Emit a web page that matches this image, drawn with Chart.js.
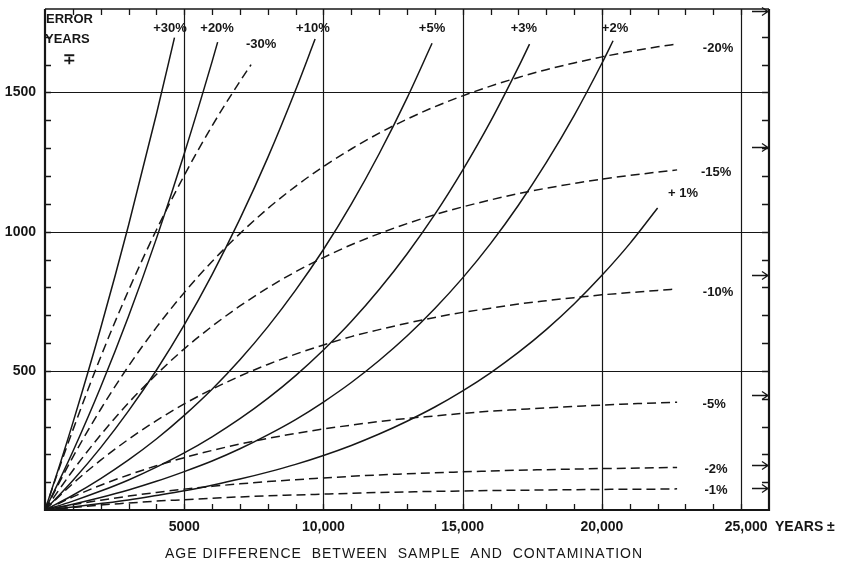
<!DOCTYPE html>
<html>
<head>
<meta charset="utf-8">
<script src="https://cdn.jsdelivr.net/npm/chart.js@4.4.1/dist/chart.umd.min.js"></script>
<style>
  html, body { margin: 0; padding: 0; background: #fff; }
  #wrap { width: 842px; height: 566px; }
</style>
</head>
<body>
<div id="wrap"><canvas id="chart" width="842" height="566"></canvas></div>
<script>
// Error in years vs age difference between sample and contamination

// x axis (years) and y axis (error years)
var X_MAX = 26000;
var Y_MAX = 1800;
var X_TICKS = [5000, 10000, 15000, 20000, 25000];
var X_TICK_LABELS = ['5000', '10,000', '15,000', '20,000', '25,000'];
var Y_TICKS = [500, 1000, 1500];
var Y_TICK_LABELS = ['500', '1000', '1500'];

// younger contamination (solid curves)
var P30_X = [0, 500, 1000, 2000, 3000, 4000, 4650];
var P30_Y = [0, 153, 313, 654, 1023, 1422, 1697];
var P20_X = [0, 500, 1000, 2000, 3000, 4000, 5000, 6000, 6200];
var P20_Y = [0, 103, 210, 442, 696, 975, 1280, 1611, 1681];
var P10_X = [0, 1000, 2000, 3000, 4000, 5000, 6000, 7000, 8000, 9000, 9700];
var P10_Y = [0, 106, 224, 356, 502, 665, 846, 1046, 1266, 1509, 1692];
var P5_X = [0, 1000, 2000, 3000, 4000, 5000, 6000, 7000, 8000, 9000, 10000, 11000, 12000, 13000, 13900];
var P5_Y = [0, 53, 113, 180, 255, 340, 434, 540, 658, 790, 936, 1099, 1280, 1480, 1677];
var P3_X = [0, 1000, 2000, 3000, 4000, 5000, 6000, 7000, 8000, 9000, 10000, 11000, 12000, 13000, 14000, 15000, 16000, 17000, 17400];
var P3_Y = [0, 32, 68, 108, 154, 205, 263, 328, 401, 483, 575, 677, 792, 920, 1062, 1221, 1396, 1591, 1674];
var P2_X = [0, 1000, 2000, 3000, 4000, 5000, 6000, 7000, 8000, 9000, 10000, 11000, 12000, 13000, 14000, 15000, 16000, 17000, 18000, 19000, 20000, 20400];
var P2_Y = [0, 21, 45, 72, 103, 138, 176, 220, 270, 325, 388, 458, 537, 625, 724, 834, 957, 1095, 1248, 1417, 1605, 1686];
var P1_X = [0, 1000, 2000, 3000, 4000, 5000, 6000, 7000, 8000, 9000, 10000, 11000, 12000, 13000, 14000, 15000, 16000, 17000, 18000, 19000, 20000, 21000, 22000];
var P1_Y = [0, 11, 23, 36, 52, 69, 89, 111, 136, 164, 196, 232, 273, 319, 370, 428, 493, 566, 648, 740, 843, 957, 1085];

// older contamination (dashed curves)
var N30_X = [0, 500, 1000, 2000, 3000, 4000, 5000, 6000, 7000, 7400];
var N30_Y = [0, 147, 287, 550, 789, 1006, 1202, 1380, 1540, 1600];
var AGES = [0, 1000, 2000, 3000, 4000, 5000, 6000, 7000, 8000, 9000, 10000, 11000, 12000, 13000, 14000, 15000, 16000, 17000, 18000, 19000, 20000, 21000, 22000, 22700];
var N20_Y = [0, 190, 362, 517, 656, 781, 893, 993, 1083, 1163, 1234, 1297, 1354, 1404, 1449, 1488, 1523, 1554, 1582, 1606, 1628, 1647, 1664, 1674];
var N15_Y = [0, 142, 270, 385, 487, 579, 660, 733, 798, 856, 907, 953, 993, 1029, 1061, 1089, 1114, 1137, 1156, 1173, 1189, 1202, 1214, 1222];
var N10_Y = [0, 95, 179, 254, 321, 381, 434, 481, 523, 560, 593, 623, 648, 671, 692, 710, 725, 740, 752, 763, 773, 781, 789, 794];
var N5_Y = [0, 47, 89, 126, 159, 188, 214, 237, 257, 275, 291, 305, 318, 329, 338, 347, 355, 361, 367, 372, 377, 381, 385, 387];
var N2_Y = [0, 19, 35, 50, 63, 75, 85, 94, 102, 109, 115, 121, 126, 130, 134, 137, 140, 143, 145, 147, 149, 150, 152, 153];
var N1_Y = [0, 9, 18, 25, 32, 37, 42, 47, 51, 54, 57, 60, 63, 65, 67, 68, 70, 71, 72, 73, 74, 75, 75, 76];

// limiting errors of the dashed curves (arrows on right axis)
var LIMITS = [80, 162, 412, 846, 1305, 1792];

// curve labels, anchored in data units
var LABELS = ['+30%', '+20%', '-30%', '+10%', '+5%', '+3%', '+2%', '-20%', '-15%', '+ 1%', '-10%', '-5%', '-2%', '-1%'];
var LABEL_AT = [
  [4490, 1732], [6180, 1732], [7760, 1671], [9620, 1732], [13900, 1732], [17200, 1732], [20470, 1732],
  [24170, 1660], [24100, 1214], [22910, 1139], [24170, 780], [24030, 381], [24100, 144], [24100, 72]
];

var INK = '#161616';
var FONT = "'Liberation Sans', Arial, sans-serif";

function pairs(xs, ys) {
  return xs.map(function(x, i) { return { x: x, y: ys[i] }; });
}

function curve(xs, ys, dashed) {
  return {
    data: pairs(xs, ys),
    borderColor: INK,
    borderWidth: 1.5,
    borderDash: dashed ? [9, 5] : [],
    pointRadius: 0,
    cubicInterpolationMode: 'monotone',
    fill: false
  };
}

var datasets = [
  curve(P30_X, P30_Y), curve(P20_X, P20_Y), curve(P10_X, P10_Y), curve(P5_X, P5_Y),
  curve(P3_X, P3_Y), curve(P2_X, P2_Y), curve(P1_X, P1_Y),
  curve(N30_X, N30_Y, true), curve(AGES, N20_Y, true), curve(AGES, N15_Y, true),
  curve(AGES, N10_Y, true), curve(AGES, N5_Y, true), curve(AGES, N2_Y, true), curve(AGES, N1_Y, true)
];

// grid, frame, inward ticks, arrows and all the lettering
var frame = {
  id: 'frame',
  beforeDatasetsDraw: function(chart) {
    var ctx = chart.ctx, sx = chart.scales.x, sy = chart.scales.y;
    var l = sx.getPixelForValue(0), r = sx.getPixelForValue(X_MAX);
    var t = sy.getPixelForValue(Y_MAX), b = sy.getPixelForValue(0);
    ctx.save();
    ctx.strokeStyle = INK;
    ctx.lineWidth = 1.2;
    ctx.beginPath();
    X_TICKS.forEach(function(v) {
      var x = Math.round(sx.getPixelForValue(v)) + 0.5;
      ctx.moveTo(x, t); ctx.lineTo(x, b);
    });
    Y_TICKS.forEach(function(v) {
      var y = Math.round(sy.getPixelForValue(v)) + 0.5;
      ctx.moveTo(l, y); ctx.lineTo(r, y);
    });
    ctx.stroke();
    ctx.restore();
  },
  afterDatasetsDraw: function(chart) {
    var ctx = chart.ctx, sx = chart.scales.x, sy = chart.scales.y;
    var l = sx.getPixelForValue(0), r = sx.getPixelForValue(X_MAX);
    var t = sy.getPixelForValue(Y_MAX), b = sy.getPixelForValue(0);
    var v, x, y;
    ctx.save();
    ctx.strokeStyle = INK;
    ctx.fillStyle = INK;

    // frame
    ctx.lineWidth = 2.2;
    ctx.beginPath();
    ctx.moveTo(l, t); ctx.lineTo(l, b); ctx.lineTo(r, b); ctx.lineTo(r, t);
    ctx.stroke();
    ctx.lineWidth = 1.6;
    ctx.beginPath();
    ctx.moveTo(l, t); ctx.lineTo(r, t);
    ctx.stroke();

    // minor ticks pointing inward
    ctx.lineWidth = 1.3;
    ctx.beginPath();
    for (v = 1000; v < X_MAX; v += 1000) {
      x = Math.round(sx.getPixelForValue(v)) + 0.5;
      ctx.moveTo(x, b); ctx.lineTo(x, b - 6);
      ctx.moveTo(x, t); ctx.lineTo(x, t + 6);
    }
    for (v = 100; v < Y_MAX; v += 100) {
      y = Math.round(sy.getPixelForValue(v)) + 0.5;
      ctx.moveTo(l, y); ctx.lineTo(l + 6, y);
      ctx.moveTo(r, y); ctx.lineTo(r - 7, y);
    }
    ctx.stroke();

    // arrows at the limiting values
    LIMITS.forEach(function(v) {
      var ya = Math.round(sy.getPixelForValue(v)) + 0.5;
      ctx.beginPath();
      ctx.moveTo(r - 17, ya); ctx.lineTo(r - 1, ya);
      ctx.moveTo(r - 7, ya - 4); ctx.lineTo(r - 1, ya); ctx.lineTo(r - 7, ya + 4);
      ctx.stroke();
    });

    // tick labels
    ctx.font = 'bold 14px ' + FONT;
    ctx.textBaseline = 'middle';
    ctx.textAlign = 'center';
    X_TICKS.forEach(function(v, i) {
      var off = i === X_TICKS.length - 1 ? 5 : 0;
      ctx.fillText(X_TICK_LABELS[i], sx.getPixelForValue(v) + off, b + 17);
    });
    ctx.textAlign = 'left';
    ctx.fillText('YEARS \u00b1', r + 6, b + 17);
    ctx.textAlign = 'right';
    Y_TICKS.forEach(function(v, i) {
      ctx.fillText(Y_TICK_LABELS[i], l - 9, sy.getPixelForValue(v));
    });

    // corner caption
    ctx.font = 'bold 13px ' + FONT;
    ctx.textAlign = 'left';
    ctx.fillText('ERROR', l + 1, t + 10);
    ctx.fillText('YEARS', l, t + 30);
    ctx.textAlign = 'center';
    ctx.font = 'bold 15px ' + FONT;
    ctx.fillText('\u2213', l + 24, t + 51);

    // curve labels
    ctx.font = 'bold 13px ' + FONT;
    LABELS.forEach(function(txt, i) {
      ctx.fillText(txt, sx.getPixelForValue(LABEL_AT[i][0]), sy.getPixelForValue(LABEL_AT[i][1]));
    });

    // axis title
    var title = 'AGE DIFFERENCE  BETWEEN  SAMPLE  AND  CONTAMINATION';
    ctx.font = '14px ' + FONT;
    ctx.textAlign = 'left';
    var w = ctx.measureText(title).width;
    var gap = (475 - w) / (title.length - 1);
    x = 165;
    for (var i = 0; i < title.length; i++) {
      ctx.fillText(title[i], x, b + 44);
      x += ctx.measureText(title[i]).width + gap;
    }
    ctx.restore();
  }
};

new Chart(document.getElementById('chart'), {
  type: 'line',
  data: { datasets: datasets },
  options: {
    responsive: false,
    devicePixelRatio: 1,
    animation: false,
    layout: { padding: { left: 45, top: 9, right: 73, bottom: 56 } },
    plugins: { legend: { display: false }, tooltip: { enabled: false } },
    scales: {
      x: { type: 'linear', min: 0, max: X_MAX, display: false },
      y: { type: 'linear', min: 0, max: Y_MAX, display: false }
    }
  },
  plugins: [frame]
});
</script>
</body>
</html>
